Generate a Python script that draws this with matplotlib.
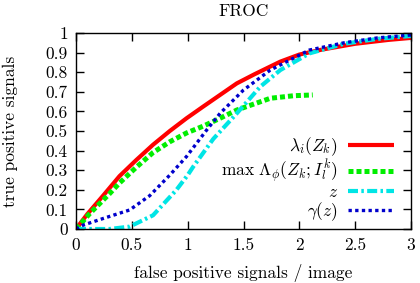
import matplotlib
matplotlib.use("Agg")
import matplotlib.pyplot as plt
from matplotlib.ticker import FixedLocator, FixedFormatter

plt.rcParams['font.family'] = 'serif'
plt.rcParams['font.serif'] = ['cmr10']
plt.rcParams['mathtext.fontset'] = 'cm'
plt.rcParams['axes.formatter.use_mathtext'] = True
FS = 12.5
plt.rcParams['font.size'] = FS

title = "FROC"
xlabel = "false positive signals / image"
ylabel = "true positive signals"

red_x = [0, 0.1, 0.25, 0.39, 0.54, 0.69, 0.84, 0.99, 1.14, 1.29, 1.44, 1.6, 1.83, 2.0, 2.2, 2.5, 2.8, 3.0]
red_y = [0, 0.075, 0.175, 0.27, 0.352, 0.43, 0.50, 0.565, 0.625, 0.684, 0.743, 0.79, 0.854, 0.89, 0.915, 0.945, 0.965, 0.975]

green_x = [0, 0.125, 0.3, 0.39, 0.54, 0.69, 0.84, 0.99, 1.14, 1.29, 1.44, 1.74, 1.95, 2.12]
green_y = [0, 0.08, 0.18, 0.235, 0.315, 0.39, 0.445, 0.49, 0.525, 0.565, 0.607, 0.667, 0.68, 0.684]

cyan_x = [0, 0.3, 0.48, 0.69, 0.9, 1.0, 1.05, 1.23, 1.44, 1.65, 1.83, 2.09, 2.4, 2.7, 3.0]
cyan_y = [0, 0.0, 0.012, 0.07, 0.2, 0.275, 0.318, 0.46, 0.59, 0.726, 0.811, 0.896, 0.945, 0.97, 0.985]

blue_x = [0, 0.065, 0.245, 0.48, 0.66, 0.78, 0.84, 0.99, 1.17, 1.29, 1.5, 1.74, 2.09, 2.4, 2.7, 3.0]
blue_y = [0, 0.02, 0.054, 0.097, 0.17, 0.24, 0.275, 0.37, 0.505, 0.59, 0.709, 0.811, 0.913, 0.95, 0.975, 0.99]

labels = [r'$\lambda_i(Z_k)$', r'$\max\ \Lambda_\phi(Z_k;I_l^k)$', r'$z$', r'$\gamma(z)$']

xticks = [0, 0.5, 1, 1.5, 2, 2.5, 3]
xticklabels = ["0", "0.5", "1", "1.5", "2", "2.5", "3"]
yticks = [0, 0.1, 0.2, 0.3, 0.4, 0.5, 0.6, 0.7, 0.8, 0.9, 1]
yticklabels = ["0", "0.1", "0.2", "0.3", "0.4", "0.5", "0.6", "0.7", "0.8", "0.9", "1"]

fig = plt.figure(figsize=(4.2, 2.83), dpi=100)
ax = fig.add_axes([76/420, 1-229/283, 335/420, 196/283])

ax.plot(red_x, red_y, color='#ff0000', lw=3.0, solid_capstyle='butt', label=labels[0])
ax.plot(green_x, green_y, color='#00ee00', lw=3.6, linestyle=(0, (1.0, 0.6)), label=labels[1])
ax.plot(cyan_x, cyan_y, color='#00e5e5', lw=3.0, linestyle=(0, (2.4, 0.8, 0.6, 0.8)), label=labels[2])
ax.plot(blue_x, blue_y, color='#0000cc', lw=2.4, linestyle=(0, (1.0, 1.0)), label=labels[3])

ax.set_xlim(0, 3)
ax.set_ylim(0, 1)
ax.xaxis.set_major_locator(FixedLocator(xticks))
ax.xaxis.set_major_formatter(FixedFormatter(xticklabels))
ax.yaxis.set_major_locator(FixedLocator(yticks))
ax.yaxis.set_major_formatter(FixedFormatter(yticklabels))
ax.tick_params(direction='in', top=True, right=True, length=6, width=1, labelsize=FS, pad=6)
for s in ax.spines.values():
    s.set_linewidth(1.0)

ax.set_title(title, fontsize=FS, pad=12)
ax.set_xlabel(xlabel, fontsize=FS, labelpad=8)
ax.set_ylabel(ylabel, fontsize=FS, labelpad=20)

leg = ax.legend(loc='lower right', bbox_to_anchor=(0.949, 0.03), frameon=False,
                markerfirst=False, handlelength=2.65, handletextpad=0.57,
                labelspacing=0.0, borderpad=0, borderaxespad=0, fontsize=FS)

fig.savefig('out.png', dpi=100)
